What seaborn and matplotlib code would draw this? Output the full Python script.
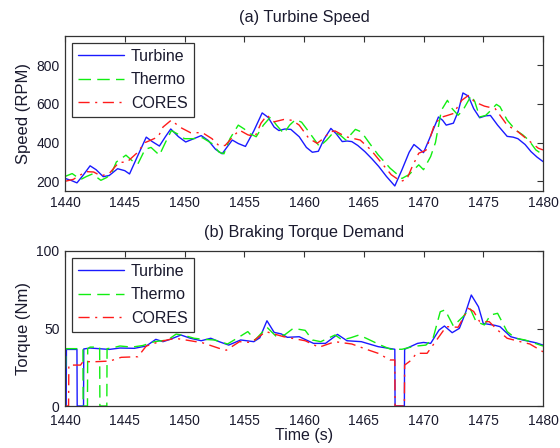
import matplotlib
matplotlib.use("Agg")
import matplotlib.pyplot as plt
import seaborn as sns
import pandas as pd

# ---------------- data: (a) turbine speed ----------------
spd_turbine_t = [1440, 1440.5, 1441, 1441.5, 1442.1, 1442.6, 1443.2, 1443.7, 1444.4, 1445, 1445.4,
                 1446, 1446.8, 1447.3, 1447.9, 1448.4, 1448.85, 1449.5, 1450.1, 1450.7, 1451.4, 1452,
                 1452.6, 1453.15, 1453.6, 1454, 1454.5, 1455.1, 1455.8, 1456.5, 1457, 1457.5, 1457.9,
                 1458.4, 1458.9, 1459.6, 1460.2, 1460.7, 1461.2, 1461.7, 1462.25, 1462.7, 1463.2,
                 1463.6, 1464, 1464.5, 1465.1, 1465.7, 1466.25, 1466.9, 1467.6, 1468.2, 1468.8,
                 1469.2, 1469.6, 1470, 1470.5, 1471.25, 1471.6, 1471.9, 1472.5, 1472.9, 1473.3,
                 1473.75, 1474.2, 1474.7, 1475.2, 1475.6, 1476.2, 1477, 1477.5, 1477.9, 1478.5,
                 1479, 1479.5, 1480]
spd_turbine = [215, 205, 192, 230, 280, 260, 224, 230, 265, 255, 238,
               320, 428, 405, 382, 430, 470, 430, 403, 418, 436, 410,
               365, 342, 380, 413, 395, 380, 460, 553, 530, 480, 462,
               470, 468, 430, 375, 350, 355, 420, 473, 445, 405,
               408, 405, 385, 353, 315, 277, 225, 176, 260, 350,
               390, 370, 348, 420, 532, 515, 490, 500, 560, 656,
               640, 575, 528, 538, 540, 490, 432, 428, 420, 390,
               353, 325, 302]

spd_thermo_t = [1440, 1440.6, 1441.3, 1441.8, 1442.3, 1443, 1443.5, 1443.9, 1444.3, 1445.1, 1445.7,
                1446.1, 1446.7, 1447.2, 1447.9, 1448.4, 1448.9, 1449.4, 1450, 1450.7, 1451.5,
                1452.3, 1452.9, 1453.3, 1453.8, 1454.5, 1455, 1455.5, 1456, 1456.6, 1457.2,
                1457.7, 1458.3, 1458.8, 1459.3, 1459.8, 1460.4, 1461.3, 1461.9, 1462.5, 1463,
                1463.5, 1464.3, 1464.8, 1465.5, 1466.2, 1467.2, 1468.2, 1468.8, 1469.6, 1470,
                1470.6, 1471, 1471.5, 1472, 1472.4, 1472.9, 1473.3, 1474, 1474.3, 1474.7,
                1475.2, 1475.5, 1476.1, 1476.4, 1477, 1477.7, 1478.3, 1478.8, 1479.4, 1480]
spd_thermo = [225, 240, 209, 225, 238, 205, 220, 243, 300, 335, 302,
              290, 365, 375, 335, 400, 462, 445, 420, 420, 425,
              395, 350, 342, 420, 490, 470, 445, 430, 490, 532,
              490, 447, 490, 519, 505, 456, 379, 413, 455, 440,
              413, 468, 455, 395, 337, 268, 215, 235, 285, 260,
              328, 400, 567, 618, 575, 541, 567, 643, 610, 532,
              540, 558, 597, 585, 516, 465, 440, 413, 362, 337]

spd_cores_t = [1440, 1440.7, 1441.2, 1441.8, 1442.4, 1443, 1443.7, 1444.5, 1445.2, 1446, 1446.7,
               1447.2, 1447.8, 1448.2, 1448.9, 1449.6, 1450.5, 1451.5, 1452.3, 1452.9, 1453.4,
               1454.2, 1454.6, 1455.3, 1455.9, 1456.4, 1456.9, 1457.5, 1458.3, 1459, 1459.6,
               1460.4, 1461.1, 1461.6, 1462.2, 1462.6, 1463.5, 1464.7, 1465.6, 1466.5, 1467.3,
               1468.1, 1468.6, 1469, 1469.6, 1470.2, 1470.9, 1471.4, 1472, 1472.5, 1473.2,
               1473.75, 1474.3, 1475.1, 1476, 1477, 1477.9, 1478.75, 1479.6, 1480]
spd_cores = [200, 210, 230, 250, 248, 228, 240, 297, 300, 345, 400,
             413, 430, 480, 516, 480, 451, 451, 420, 383, 385,
             440, 464, 440, 430, 500, 541, 507, 519, 515, 490,
             422, 396, 420, 456, 460, 430, 413, 362, 294, 234,
             200, 210, 268, 345, 360, 490, 529, 540, 550, 618,
             643, 609, 588, 575, 490, 456, 413, 371, 362]

# ---------------- data: (b) braking torque demand ----------------
trq_turbine_t = [1440, 1440.1, 1440.12, 1441.0, 1441.02, 1441.55, 1441.57, 1442.1, 1443.7, 1444.6,
                 1445.8, 1446.8, 1447.6, 1448.2, 1448.8, 1449.7, 1450.5, 1451.4, 1452.2, 1452.9,
                 1453.7, 1454.7, 1455.8, 1456.3, 1456.9, 1457.5, 1458.1, 1458.6, 1459.6, 1460.8,
                 1461.8, 1462.8, 1463.6, 1464.8, 1466.2, 1467.6, 1467.62, 1468.4, 1468.42, 1469.5,
                 1470, 1470.6, 1471.3, 1471.75, 1472.4, 1473, 1473.5, 1474, 1474.6, 1475, 1476,
                 1476.4, 1477.3, 1478.3, 1479.4, 1480]
trq_turbine = [0, 0, 36.5, 36.5, 0, 0, 36.8, 37.4, 36.5, 37.4,
               37.2, 38.7, 43, 41.5, 43, 45.8, 43.7, 42.1, 43.7, 41.5,
               39.3, 42.6, 41.5, 44, 55, 47.5, 46.5, 44.3, 44.7, 40.4,
               40.4, 46.2, 42.1, 41.5, 38.3, 36.6, 0, 0, 36.6, 40.4,
               41, 40.4, 49, 51.6, 47.3, 50.1, 59.8, 71.6, 64, 53.3, 52,
               51.2, 44.7, 42.6, 40.8, 39.3]

trq_thermo_t = [1440, 1440.08, 1441.5, 1441.52, 1441.88, 1441.9, 1442.1, 1442.9, 1442.92, 1443.5,
                1443.52, 1443.9, 1444.6, 1445.6, 1446.5, 1447.5, 1448.6, 1449.3, 1450, 1450.8,
                1451.6, 1452.5, 1453.6, 1454.4, 1455.3, 1455.9, 1456.9, 1457.7, 1458.4, 1459.1,
                1460.1, 1460.7, 1461.4, 1462.6, 1463.2, 1463.9, 1464.6, 1465.2, 1466.4, 1467.25,
                1468.2, 1469.2, 1470.2, 1470.8, 1471.4, 1471.8, 1472.5, 1473.3, 1473.9, 1474.4,
                1475.1, 1475.6, 1476.2, 1477, 1477.7, 1478.5, 1480]
trq_thermo = [0, 37, 37, 0, 0, 37, 38, 38, 0, 0,
              37, 37.4, 38.7, 38, 39, 41.5, 42.6, 46.4, 45.5, 43.7,
              43, 42.6, 40, 43.7, 48, 42.6, 50.8, 44.7, 46, 50.1,
              48.8, 42.6, 41.5, 45.8, 42.6, 44, 45.8, 43.7, 39.3, 36.6,
              36.6, 38.5, 39.3, 43.7, 60.8, 62, 51.6, 57.6, 63, 54.4,
              52.3, 58.7, 59.8, 48, 43.7, 42.6, 38.7]

trq_cores_t = [1440, 1440.3, 1440.32, 1441.3, 1441.5, 1442.6, 1443.75, 1444.7, 1446.1, 1446.8,
               1447.9, 1449.2, 1450.1, 1451.5, 1452.9, 1453.5, 1454.6, 1455.6, 1456.8, 1458.3,
               1460.1, 1461.25, 1462.6, 1464, 1465.4, 1466.2, 1467.2, 1467.6, 1467.62, 1468.4,
               1468.42, 1469, 1469.4, 1470.3, 1471.1, 1471.9, 1472.9, 1473.75, 1474.2, 1474.7,
               1475.5, 1476.2, 1477, 1478.1, 1478.9, 1480]
trq_cores = [0, 0, 26.4, 26.4, 28.6, 28.6, 29, 31.4, 31.8, 38.7,
             41.5, 43.7, 42.6, 40.8, 37.2, 36, 41.5, 41, 48, 44.7,
             42.1, 37.9, 41.5, 40, 36.1, 34, 29.7, 29.7, 0, 0,
             26.4, 29.7, 34, 34, 42.6, 51.2, 50.8, 63, 61, 54.4,
             54.4, 49, 43.7, 41.5, 40, 35]

series_names = ["Turbine", "Thermo", "CORES"]
series_colors = ["#1a1aff", "#11ee11", "#ff1a1a"]
series_styles = ["-", (0, (9, 4.5)), (0, (8, 4, 1.5, 4))]

x_ticks = [1440, 1445, 1450, 1455, 1460, 1465, 1470, 1475, 1480]
spd_ticks = [200, 400, 600, 800]
trq_ticks = [0, 50, 100]

# ---------------- style ----------------
sns.set_style("white")
plt.rcParams["font.family"] = ["Liberation Sans", "DejaVu Sans"]
plt.rcParams["axes.edgecolor"] = "#333333"
plt.rcParams["text.color"] = "#1a1a2e"

fig = plt.figure(figsize=(5.6, 4.48), dpi=100)
ax1 = fig.add_axes([65 / 560, 1 - 191 / 448, 478 / 560, 155 / 448])
ax2 = fig.add_axes([65 / 560, 1 - 406 / 448, 478 / 560, 155 / 448])

panels = [
    (ax1, [(spd_turbine_t, spd_turbine), (spd_thermo_t, spd_thermo), (spd_cores_t, spd_cores)],
     (150, 950), spd_ticks, "Speed (RPM)", "(a) Turbine Speed", 3.5),
    (ax2, [(trq_turbine_t, trq_turbine), (trq_thermo_t, trq_thermo), (trq_cores_t, trq_cores)],
     (0, 100), trq_ticks, "Torque (Nm)", "(b) Braking Torque Demand", 6),
]

for ax, data, ylim, yticks, ylabel, title, xpad in panels:
    for (t, v), name, col, ls in zip(data, series_names, series_colors, series_styles):
        df = pd.DataFrame({"t": t, "v": v})
        sns.lineplot(data=df, x="t", y="v", ax=ax, color=col, linestyle=ls, linewidth=1.0,
                     label=name, sort=False, estimator=None)
    ax.set_xlim(1440, 1480)
    ax.set_ylim(*ylim)
    ax.set_xticks(x_ticks)
    ax.set_yticks(yticks)
    ax.tick_params(direction="in", top=True, right=True, length=4, width=0.8,
                   labelsize=10, colors="#333333", labelcolor="#1a1a2e")
    ax.tick_params(axis="x", pad=xpad)
    ax.tick_params(axis="y", pad=4)
    ax.set_ylabel(ylabel, fontsize=12, color="#1a1a2e", labelpad=4)
    ax.set_xlabel("")
    ax.set_title(title, fontsize=11.7, color="#1a1a2e", pad=10)
    for sp in ax.spines.values():
        sp.set_linewidth(0.9)
        sp.set_color("#333333")
    leg = ax.legend(loc="upper left", bbox_to_anchor=(7 / 478, 1 - 7 / 155), borderaxespad=0,
                    fontsize=11.5, frameon=True, fancybox=False, framealpha=1, edgecolor="#333333",
                    handlelength=2.9, handletextpad=0.42, labelspacing=0.52, borderpad=0.38)
    leg.get_frame().set_linewidth(0.9)

ax2.set_xlabel("Time (s)", fontsize=11.5, color="#1a1a2e", labelpad=0)

fig.savefig("out.png", dpi=100)
